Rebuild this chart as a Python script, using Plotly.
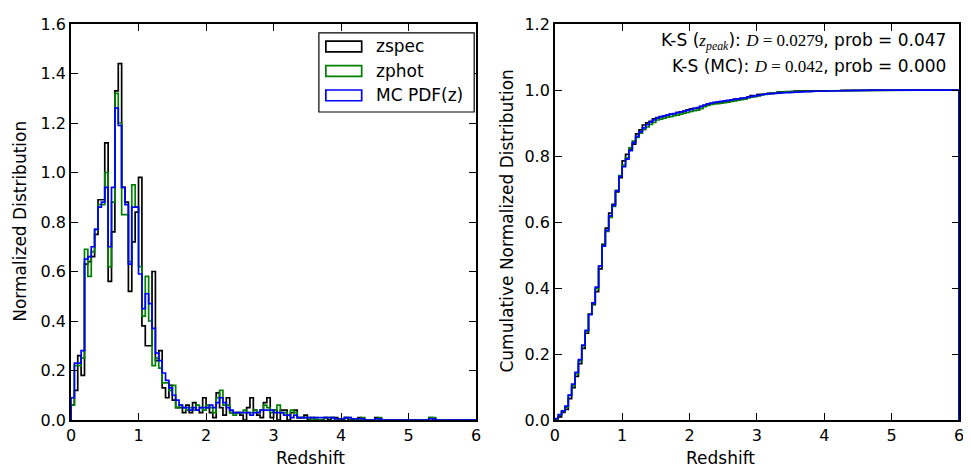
import numpy as np
import plotly.graph_objects as go

# ---------------- data (normalized histograms, bin width 0.05 from 0 to 6) ----------------
bin_width = 0.05
z_min, z_max = 0.0, 6.0

zspec = [
    0.06, 0.12, 0.26, 0.18, 0.63, 0.64, 0.66, 0.75, 0.89, 0.89,
    1.12, 0.56, 0.76, 1.33, 1.44, 0.94, 0.88, 0.52, 0.72, 0.84,
    0.98, 0.38, 0.30, 0.30, 0.60, 0.24, 0.28, 0.13, 0.09, 0.14,
    0.08, 0.05, 0.05, 0.03, 0.06, 0.03, 0.07, 0.04, 0.03, 0.09,
    0.05, 0.03, 0.01, 0.11, 0.05, 0.02, 0.09, 0.03, 0.03, 0.03,
    0.02, 0.00, 0.05, 0.09, 0.04, 0.02, 0.01, 0.07, 0.09, 0.01,
    0.04, 0.00, 0.04, 0.04, 0.00, 0.03, 0.04, 0.01, 0.01, 0.02,
    0.00, 0.01, 0.00, 0.00, 0.00, 0.01, 0.00, 0.01, 0.01, 0.00,
    0.00, 0.01, 0.00, 0.00, 0.00, 0.01, 0.00, 0.00, 0.00, 0.00,
    0.01, 0.00, 0.00, 0.00, 0.00, 0.00, 0.00, 0.00, 0.00, 0.00,
    0.00, 0.00, 0.00, 0.00, 0.00, 0.00, 0.01, 0.00, 0.00, 0.00,
    0.00, 0.00, 0.00, 0.00, 0.00, 0.00, 0.00, 0.00, 0.00, 0.00,
]

zphot = [
    0.06, 0.22, 0.22, 0.25, 0.69, 0.58, 0.68, 0.77, 0.87, 0.87,
    1.00, 0.62, 0.88, 1.32, 1.20, 0.83, 0.83, 0.64, 0.95, 0.86,
    0.62, 0.42, 0.58, 0.40, 0.22, 0.25, 0.21, 0.15, 0.15, 0.12,
    0.14, 0.05, 0.06, 0.05, 0.04, 0.05, 0.04, 0.06, 0.05, 0.04,
    0.06, 0.05, 0.03, 0.09, 0.12, 0.06, 0.06, 0.03, 0.02, 0.03,
    0.03, 0.04, 0.03, 0.03, 0.04, 0.03, 0.04, 0.06, 0.05, 0.03,
    0.04, 0.06, 0.03, 0.03, 0.02, 0.04, 0.03, 0.01, 0.01, 0.01,
    0.01, 0.00, 0.01, 0.00, 0.00, 0.01, 0.01, 0.01, 0.00, 0.00,
    0.00, 0.01, 0.01, 0.00, 0.00, 0.00, 0.01, 0.00, 0.00, 0.00,
    0.00, 0.01, 0.00, 0.00, 0.00, 0.00, 0.00, 0.00, 0.00, 0.00,
    0.00, 0.00, 0.00, 0.00, 0.00, 0.00, 0.01, 0.01, 0.00, 0.00,
    0.00, 0.00, 0.00, 0.00, 0.00, 0.00, 0.00, 0.00, 0.00, 0.00,
]

mc_pdf = [
    0.09, 0.23, 0.23, 0.28, 0.65, 0.66, 0.70, 0.77, 0.86, 0.88,
    0.94, 0.70, 0.94, 1.26, 1.19, 0.94, 0.87, 0.63, 0.86, 0.86,
    0.59, 0.45, 0.51, 0.47, 0.37, 0.27, 0.24, 0.19, 0.16, 0.13,
    0.10, 0.08, 0.06, 0.05, 0.05, 0.04, 0.05, 0.04, 0.05, 0.05,
    0.05, 0.06, 0.05, 0.07, 0.09, 0.07, 0.05, 0.04, 0.03, 0.03,
    0.03, 0.03, 0.03, 0.02, 0.03, 0.03, 0.04, 0.04, 0.04, 0.04,
    0.03, 0.03, 0.03, 0.02, 0.02, 0.01, 0.02, 0.01, 0.01, 0.01,
    0.01, 0.01, 0.01, 0.01, 0.01, 0.01, 0.01, 0.01, 0.005, 0.005,
    0.005, 0.01, 0.01, 0.005, 0.005, 0.005, 0.005, 0.00, 0.00, 0.00,
    0.005, 0.005, 0.00, 0.00, 0.00, 0.00, 0.00, 0.00, 0.00, 0.00,
    0.00, 0.00, 0.00, 0.00, 0.00, 0.00, 0.005, 0.005, 0.00, 0.00,
    0.00, 0.00, 0.00, 0.00, 0.00, 0.00, 0.00, 0.00, 0.00, 0.00,
]

series_names = ["zspec", "zphot", "MC PDF(z)"]
series_colors = ["#000000", "#008000", "#0000ff"]

x_ticks = [0, 1, 2, 3, 4, 5, 6]
y_ticks_left = [0.0, 0.2, 0.4, 0.6, 0.8, 1.0, 1.2, 1.4, 1.6]
y_ticks_right = [0.0, 0.2, 0.4, 0.6, 0.8, 1.0, 1.2]

ks_lines = [
    ("K-S (", "z", "peak", "): ", "0.0279", ", prob = 0.047"),
    ("K-S (MC): ", None, None, "", "0.042", ", prob = 0.000"),
]

# ---------------- helpers ----------------
n_bins = int(round((z_max - z_min) / bin_width))
edges = np.linspace(z_min, z_max, n_bins + 1)


def step_outline(vals):
    """matplotlib histtype='step' outline: closed to zero at both ends."""
    xs, ys = [edges[0]], [0.0]
    for i, v in enumerate(vals):
        xs += [edges[i], edges[i + 1]]
        ys += [v, v]
    xs.append(edges[-1])
    ys.append(0.0)
    return xs, ys


FONT = "DejaVu Sans"
LW = 1.7

fig = go.Figure()

all_series = [zspec, zphot, mc_pdf]
for vals, name, col in zip(all_series, series_names, series_colors):
    xs, ys = step_outline(vals)
    fig.add_trace(go.Scatter(x=xs, y=ys, mode="lines", name=name,
                             line=dict(color=col, width=LW),
                             xaxis="x", yaxis="y", showlegend=False,
                             hoverinfo="skip"))

for vals, name, col in zip(all_series, series_names, series_colors):
    v = np.asarray(vals, dtype=float)
    cum = np.cumsum(v) / v.sum()
    xs, ys = step_outline(cum)
    fig.add_trace(go.Scatter(x=xs, y=ys, mode="lines", name=name,
                             line=dict(color=col, width=LW),
                             xaxis="x2", yaxis="y2", showlegend=False,
                             hoverinfo="skip"))

# ---------------- layout (page pixel coords; page body has 8px margin) ----------------
OFF = 8
PAGE_W, PAGE_H = 971, 472
W, H = PAGE_W - OFF, PAGE_H - OFF
plot_left, plot_right, plot_top, plot_bottom = 71, 963, 15, 420  # page coords
L = plot_left - OFF
T = plot_top - OFF
R = W - (plot_right - OFF)
B = H - (plot_bottom - OFF)
plot_w = plot_right - plot_left
plot_h = plot_bottom - plot_top

left_px = (71, 478)
right_px = (557, 963)
dom_left = [(left_px[0] - plot_left) / plot_w, (left_px[1] - plot_left) / plot_w]
dom_right = [(right_px[0] - plot_left) / plot_w, (right_px[1] - plot_left) / plot_w]

axis_common = dict(showline=True, linecolor="black", linewidth=1.5,
                   mirror="ticks", ticks="inside", ticklen=7, tickwidth=1.3,
                   tickcolor="black", showgrid=False, zeroline=False,
                   ticklabeloverflow="allow",
                   tickfont=dict(family=FONT, size=16, color="black"))

fig.update_layout(
    width=W, height=H,
    margin=dict(l=L, r=R, t=T, b=B, pad=0),
    paper_bgcolor="white", plot_bgcolor="white",
    showlegend=False,
    xaxis=dict(domain=dom_left, range=[z_min, z_max], tickvals=x_ticks,
               ticktext=[str(t) for t in x_ticks], anchor="y", **axis_common),
    yaxis=dict(domain=[0, 1], range=[0, 1.6], tickvals=y_ticks_left,
               ticktext=[f"{t:.1f}" for t in y_ticks_left], anchor="x",
               **axis_common),
    xaxis2=dict(domain=dom_right, range=[z_min, z_max], tickvals=x_ticks,
                ticktext=[str(t) for t in x_ticks], anchor="y2", **axis_common),
    yaxis2=dict(domain=[0, 1], range=[0, 1.2], tickvals=y_ticks_right,
                ticktext=[f"{t:.1f}" for t in y_ticks_right], anchor="x2",
                **axis_common),
)


def px_x(px):
    return (px - plot_left) / plot_w


def px_y(py):
    return (plot_bottom - py) / plot_h


title_font = dict(family=FONT, size=17, color="black")
ann = []
ann.append(dict(text="Redshift", x=px_x((left_px[0] + left_px[1]) / 2), y=px_y(459),
                xref="paper", yref="paper", showarrow=False, font=title_font,
                yanchor="middle"))
ann.append(dict(text="Redshift", x=px_x((right_px[0] + right_px[1]) / 2), y=px_y(459),
                xref="paper", yref="paper", showarrow=False, font=title_font,
                yanchor="middle"))
ann.append(dict(text="Normalized Distribution", x=px_x(19), y=px_y(217),
                xref="paper", yref="paper", showarrow=False, textangle=-90,
                font=title_font, xanchor="center"))
ann.append(dict(text="Cumulative Normalized Distribution", x=px_x(508), y=px_y(217),
                xref="paper", yref="paper", showarrow=False, textangle=-90,
                font=title_font, xanchor="center"))

# K-S text (right panel, top right)
MATH = "font-family:'Liberation Serif'"
ks_y = [33, 58]
for (pre, zsym, sub, post, dval, tail), yy in zip(ks_lines, ks_y):
    txt = pre
    if zsym:
        txt += f"<span style=\"{MATH}\"><i>{zsym}</i><sub><i>{sub}</i></sub></span>"
    txt += post
    txt += f"<span style=\"{MATH}\"><i>D</i> = {dval}</span>{tail}"
    ann.append(dict(text=txt, x=px_x(952), y=px_y(yy), xref="paper", yref="paper",
                    xanchor="right", yanchor="middle", showarrow=False,
                    font=dict(family=FONT, size=17, color="black")))

# Manual legend in left panel (rectangle patches like matplotlib step hist)
shapes = []
box = (320, 24, 476, 105)
shapes.append(dict(type="rect", xref="paper", yref="paper",
                   x0=px_x(box[0]), x1=px_x(box[2]), y0=px_y(box[3]), y1=px_y(box[1]),
                   line=dict(color="black", width=1.2), fillcolor="white", layer="above"))
rows = [38, 63, 88]
for name, col, ry in zip(series_names, series_colors, rows):
    shapes.append(dict(type="rect", xref="paper", yref="paper",
                       x0=px_x(327), x1=px_x(363), y0=px_y(ry + 5.5), y1=px_y(ry - 5.5),
                       line=dict(color=col, width=LW), fillcolor="rgba(0,0,0,0)",
                       layer="above"))
    ann.append(dict(text=name, x=px_x(375), y=px_y(ry), xref="paper", yref="paper",
                    xanchor="left", yanchor="middle", showarrow=False,
                    font=dict(family=FONT, size=17, color="black")))

fig.update_layout(annotations=ann, shapes=shapes)

fig.write_html("out.html")
